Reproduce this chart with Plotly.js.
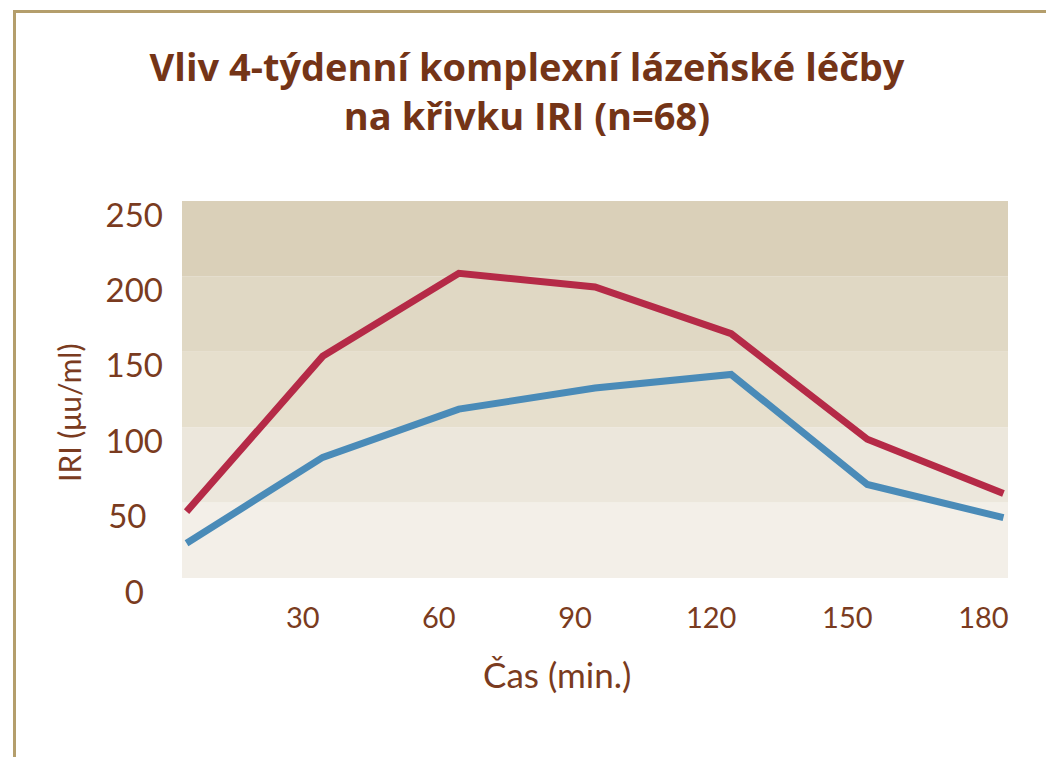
<!DOCTYPE html>
<html>
<head>
<meta charset="utf-8">
<script src="https://cdn.plot.ly/plotly-3.0.1.min.js"></script>
<style>
  html, body { margin: 0; padding: 0; background: #ffffff; }
  #chart { width: 1046px; height: 757px; }
</style>
</head>
<body>
<div id="chart"></div>
<script>
// ---- data ----
const times = [0, 30, 60, 90, 120, 150, 180];
const seriesRed = [44, 147, 202, 193, 162, 92, 56];
const seriesBlue = [23, 80, 112, 126, 135, 62, 40];
const xTickVals = [30, 60, 90, 120, 150, 180];
const xTickText = ['30', '60', '90', '120', '150', '180'];
const yTickVals = [0, 50, 100, 150, 200, 250];
const yTickText = ['0\u2007', '50\u2002', '100', '150', '200', '250'];
const bandEdges = [0, 50, 100, 150, 200, 250];
const bandColors = ['#f3efe8', '#ece7dc', '#e6dfcd', '#e0d8c4', '#dad0b9'];
const titleText = 'Vliv 4-týdenní komplexní lázeňské léčby<br>na křivku IRI (n=68)';
const xTitle = 'Čas (min.)';
const yTitle = 'IRI (μu/ml)';

// ---- layout geometry (pixels) ----
const W = 1046, H = 757;
const L = 182, R = 1008, T = 201, B = 578;
const px2x = p => (p - L) / (R - L);
const px2y = p => (B - p) / (B - T);

const textColor = '#7a3b20';
const font = 'Lato, "Open Sans", sans-serif';
const titleFont = '"Open Sans", Lato, sans-serif';

const shapes = [];
for (let i = 0; i < bandColors.length; i++) {
  shapes.push({
    type: 'rect', xref: 'paper', yref: 'y', layer: 'below',
    x0: 0, x1: 1, y0: bandEdges[i], y1: bandEdges[i + 1],
    fillcolor: bandColors[i], line: { width: 0 }
  });
}
// decorative frame lines
const frameColor = '#b49e6c';
shapes.push({ type: 'line', xref: 'paper', yref: 'paper',
  x0: px2x(13), x1: px2x(1046), y0: px2y(11.5), y1: px2y(11.5),
  line: { color: frameColor, width: 3 } });
shapes.push({ type: 'line', xref: 'paper', yref: 'paper',
  x0: px2x(14.5), x1: px2x(14.5), y0: px2y(10), y1: px2y(757),
  line: { color: frameColor, width: 3 } });

const traces = [
  { x: times, y: seriesRed, type: 'scatter', mode: 'lines',
    line: { color: '#b52a47', width: 7 }, hoverinfo: 'skip' },
  { x: times, y: seriesBlue, type: 'scatter', mode: 'lines',
    line: { color: '#4a8bb8', width: 7 }, hoverinfo: 'skip' }
];

const layout = {
  width: W, height: H, autosize: false,
  margin: { l: L, r: W - R, t: T, b: H - B, pad: 0 },
  paper_bgcolor: '#ffffff', plot_bgcolor: 'rgba(0,0,0,0)',
  showlegend: false,
  font: { family: font, color: textColor },
  title: {
    text: titleText,
    font: { family: titleFont, size: 38, color: '#743417', weight: 'bold' },
    x: 527 / W, xanchor: 'center', xref: 'container',
    y: 1 - 81 / H, yanchor: 'top', yref: 'container'
  },
  xaxis: {
    range: [-1, 181], tickvals: xTickVals, ticktext: xTickText,
    showgrid: false, zeroline: false, showline: false, ticks: '',
    ticklabelshift: -20, ticklabelstandoff: 20,
    tickfont: { family: font, size: 29, color: textColor },
    fixedrange: true
  },
  yaxis: {
    range: [0, 250], tickvals: yTickVals, ticktext: yTickText,
    showgrid: false, zeroline: false, showline: false, ticks: '',
    ticklabelshift: 14, ticklabelstandoff: 18,
    tickfont: { family: font, size: 33, color: textColor },
    fixedrange: true
  },
  shapes: shapes,
  annotations: [
    { text: xTitle, xref: 'paper', yref: 'paper', x: px2x(557), y: px2y(674),
      xanchor: 'center', yanchor: 'middle', showarrow: false,
      font: { family: font, size: 35, color: textColor } },
    { text: yTitle, xref: 'paper', yref: 'paper', x: px2x(69), y: px2y(413),
      xanchor: 'center', yanchor: 'middle', showarrow: false, textangle: -90,
      font: { family: font, size: 30, color: textColor } }
  ]
};

Plotly.newPlot('chart', traces, layout, { displayModeBar: false, staticPlot: true });
</script>
</body>
</html>
